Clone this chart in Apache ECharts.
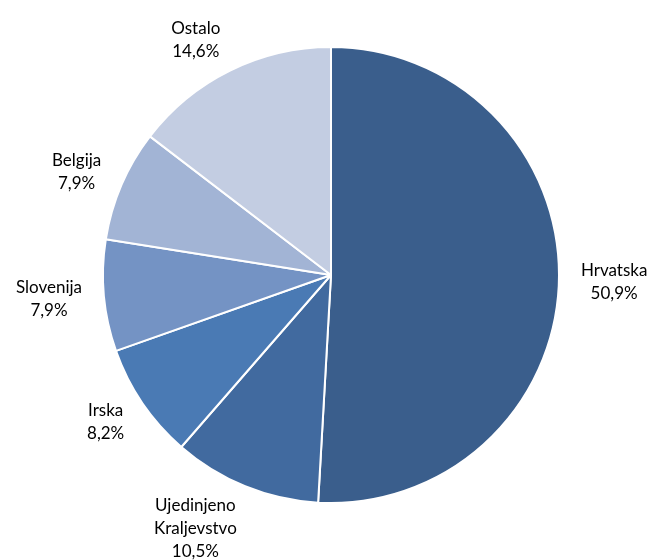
<!DOCTYPE html>
<html>
<head>
<meta charset="utf-8">
<script src="https://cdn.jsdelivr.net/npm/echarts@6/dist/echarts.min.js"></script>
<style>
  html, body { margin: 0; background: #fff; }
  #main { width: 650px; height: 560px; }
</style>
</head>
<body>
<div id="main"></div>
<script>
const countries = ['Hrvatska', 'Ujedinjeno\nKraljevstvo', 'Irska', 'Slovenija', 'Belgija', 'Ostalo'];
const shares = [50.9, 10.5, 8.2, 7.9, 7.9, 14.6];
const sliceColors = ['#3A5E8C', '#416A9F', '#4A7AB4', '#7493C4', '#A2B4D5', '#C3CDE2'];

const cx = 331, cy = 275, radius = 228;
const total = shares.reduce((a, b) => a + b, 0);

// put the label beside the rim point of the slice's middle, Excel-like
function placeLabel (params) {
  const i = params.dataIndex;
  let before = 0;
  for (let k = 0; k < i; k++) before += shares[k];
  const mid = (before + shares[i] / 2) / total * 2 * Math.PI;
  const dx = Math.sin(mid), dy = -Math.cos(mid);
  const w = params.labelRect.width, h = params.labelRect.height;
  const x = cx + (radius + 22) * dx + Math.sign(dx) * w / 2;
  const y = cy + (radius + 11) * dy + dy * h / 2;
  return { x: x, y: y, align: 'center', verticalAlign: 'middle' };
}

const chart = echarts.init(document.getElementById('main'));
chart.setOption({
  animation: false,
  series: [{
    type: 'pie',
    center: [cx, cy],
    radius: radius,
    startAngle: 90,
    clockwise: true,
    avoidLabelOverlap: false,
    itemStyle: { borderColor: '#fff', borderWidth: 2 },
    label: {
      show: true,
      position: 'outside',
      color: '#000',
      fontFamily: 'Lato',
      fontSize: 17,
      lineHeight: 23,
      formatter: p => p.name + '\n' + p.value.toFixed(1).replace('.', ',') + '%'
    },
    labelLine: { show: false },
    labelLayout: placeLabel,
    emphasis: { disabled: true },
    data: countries.map((name, i) => ({
      name: name,
      value: shares[i],
      itemStyle: { color: sliceColors[i] }
    }))
  }]
});
</script>
</body>
</html>
